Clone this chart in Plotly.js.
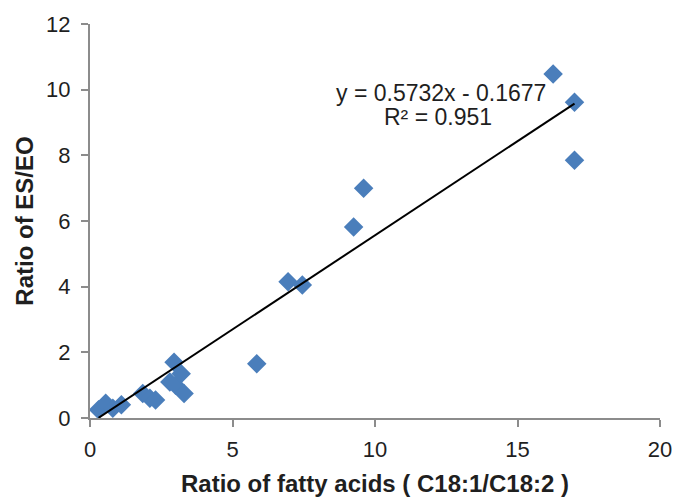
<!DOCTYPE html>
<html>
<head>
<meta charset="utf-8">
<script src="https://cdn.plot.ly/plotly-3.0.1.min.js"></script>
<style>html,body{margin:0;padding:0;background:#fff;}#chart{width:678px;height:497px;}</style>
</head>
<body>
<div id="chart"></div>
<script>
const ratioFA = [0.3, 0.55, 0.8, 1.1, 1.85, 2.1, 2.3, 2.8, 2.95, 3.0, 3.2, 3.3, 5.85, 6.95, 7.45, 9.25, 9.6, 16.25, 17.0, 17.0];
const ratioESEO = [0.25, 0.45, 0.3, 0.4, 0.75, 0.6, 0.55, 1.1, 1.7, 1.0, 1.35, 0.75, 1.65, 4.15, 4.05, 5.82, 7.0, 10.48, 9.62, 7.85];
const slope = 0.5732;
const intercept = -0.1677;
const xTicks = [0, 5, 10, 15, 20];
const yTicks = [0, 2, 4, 6, 8, 10, 12];

const xMin = Math.min(...ratioFA), xMax = Math.max(...ratioFA);
const lineX = [xMin, xMax];
const lineY = lineX.map(v => slope * v + intercept);

const font = "Liberation Sans, Arial, sans-serif";
const txt = '#1f1f1f';
const data = [
  {x: ratioFA, y: ratioESEO, type: 'scatter', mode: 'markers',
   marker: {symbol: 'diamond', size: 15, color: '#4a7ebb'}, hoverinfo: 'x+y'},
  {x: lineX, y: lineY, type: 'scatter', mode: 'lines',
   line: {color: '#000', width: 2}}
];
const layout = {
  width: 678, height: 497,
  margin: {l: 90, r: 18, t: 24, b: 79},
  paper_bgcolor: '#fff', plot_bgcolor: '#fff',
  showlegend: false,
  font: {family: font, size: 22, color: txt},
  xaxis: {range: [0, 20], tickvals: xTicks, showgrid: false, zeroline: false,
          showline: true, linecolor: '#8c8c8c', linewidth: 2,
          ticks: 'outside', ticklen: 7, tickwidth: 2, tickcolor: '#8c8c8c',
          ticklabelstandoff: 4,
          tickfont: {size: 22, color: txt},
          title: {text: '<b>Ratio of fatty acids ( C18:1/C18:2 )</b>', font: {size: 24, color: txt}, standoff: 14}},
  yaxis: {range: [0, 12], tickvals: yTicks, showgrid: false, zeroline: false,
          showline: true, linecolor: '#8c8c8c', linewidth: 2,
          ticks: 'outside', ticklen: 7, tickwidth: 2, tickcolor: '#8c8c8c',
          ticklabelstandoff: 6,
          tickfont: {size: 22, color: txt},
          title: {text: '<b>Ratio of ES/EO</b>', font: {size: 24, color: txt}, standoff: 6}},
  annotations: [
    {x: 12.32, y: 9.9, xref: 'x', yref: 'y', text: 'y = 0.5732x - 0.1677', showarrow: false,
     font: {size: 23, color: txt}},
    {x: 12.21, y: 9.17, xref: 'x', yref: 'y', text: 'R² = 0.951', showarrow: false,
     font: {size: 23, color: txt}}
  ]
};
Plotly.newPlot('chart', data, layout, {displayModeBar: false, staticPlot: true});
</script>
</body>
</html>
